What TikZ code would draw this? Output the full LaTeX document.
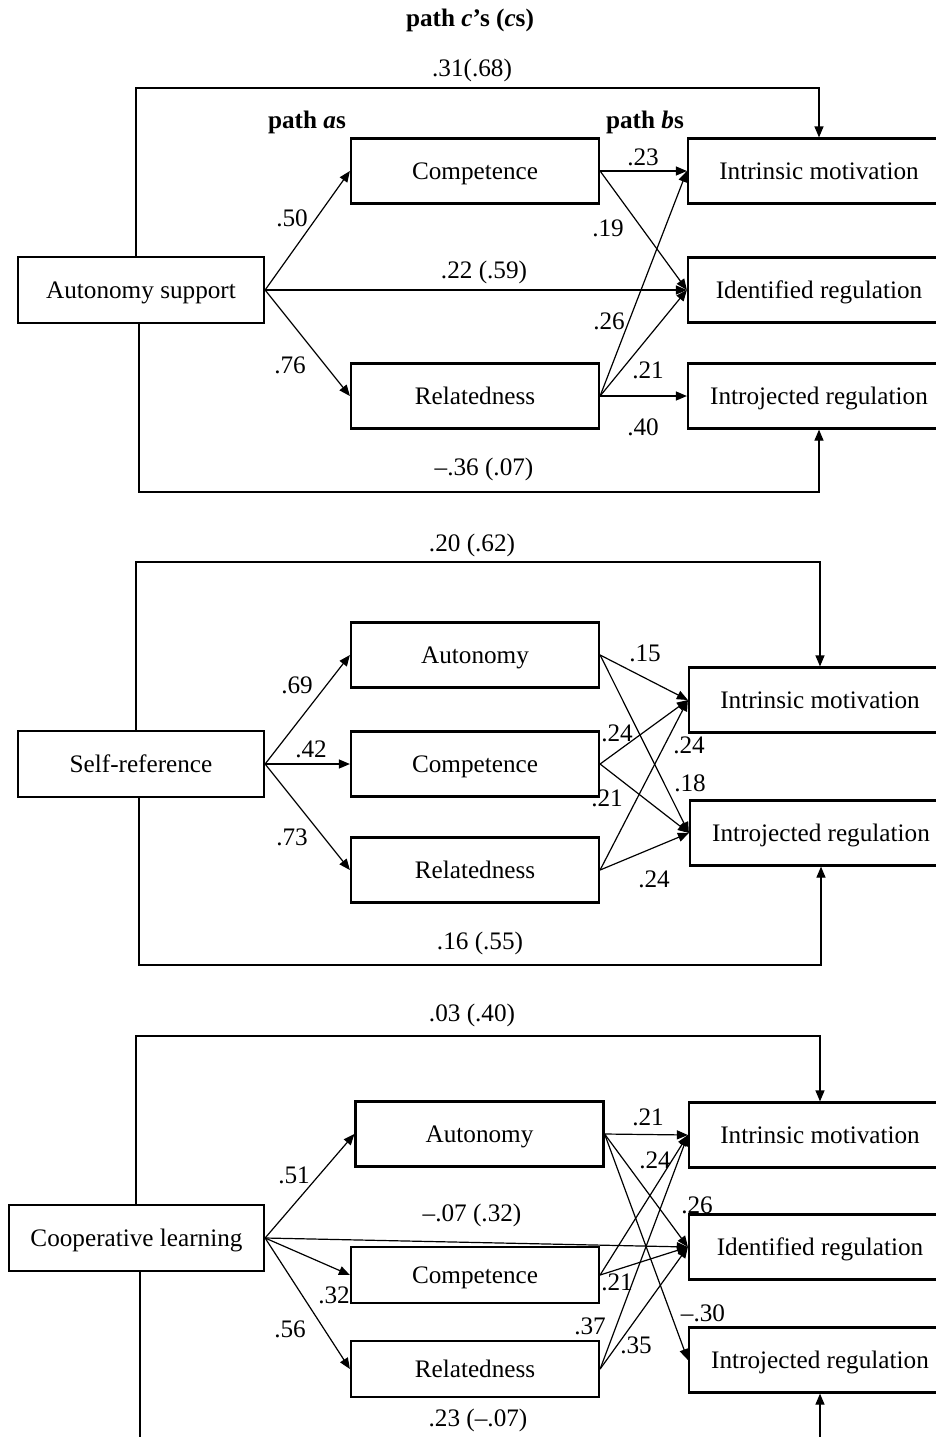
\documentclass[tikz,border=0pt]{standalone}
\usepackage{fontspec}
\setmainfont{Liberation Serif}
\usetikzlibrary{arrows.meta}
\begin{document}
\begin{tikzpicture}[x=0.5pt,y=-0.5pt,
  box/.style={draw, line width=1.1pt, inner sep=0pt, minimum width=124pt, minimum height=32.5pt, text height=8.3pt, text depth=0pt, font=\fontsize{12.6}{15}\selectfont},
  lbox/.style={box, minimum width=123pt, minimum height=33pt},
  rbox/.style={box, minimum width=131pt},
  lab/.style={inner sep=0pt, font=\fontsize{12.6}{15}\selectfont},
  conn/.style={line width=0.6pt, -{Triangle[length=5.5pt,width=4.5pt]}}
]
\useasboundingbox (0,0) rectangle (936,1437);
\clip (0,0) rectangle (936,1437);

% ---------------- Panel 1 ----------------
\node[lab, font=\fontsize{12.6}{15}\selectfont\bfseries] (title) at (470,20) {path \textit{c}’s (\textit{c}s)};
\node[lbox] (AS) at (141,290) {Autonomy support};
\node[box] (C1) at (475,171) {Competence};
\node[box] (R1) at (475,396) {Relatedness};
\node[rbox] (IM1) at (819,171) {Intrinsic motivation};
\node[rbox] (ID1) at (819,290) {Identified regulation};
\node[rbox] (IJ1) at (819,396) {Introjected regulation};

\draw[conn] (AS.east) -- (C1.west);
\draw[conn] (AS.east) -- (R1.west);
\draw[conn] (AS.east) -- (ID1.west);
\draw[conn] (C1.east) -- (IM1.west);
\draw[conn] (C1.east) -- (ID1.west);
\draw[conn] (R1.east) -- (IM1.west);
\draw[conn] (R1.east) -- (ID1.west);
\draw[conn] (R1.east) -- (IJ1.west);
\coordinate (t1) at (136,88);
\coordinate (b1) at (139,492);
\draw[conn] (AS.north -| t1) -- (t1) -| (IM1.north);
\draw[conn] (AS.south -| b1) -- (b1) -| (IJ1.south);

\node[lab] (p1c) at (472,70) {.31(.68)};
\node[lab, font=\fontsize{12.6}{15}\selectfont\bfseries] (pa) at (307,122) {path \textit{a}s};
\node[lab, font=\fontsize{12.6}{15}\selectfont\bfseries] (pb) at (645,122) {path \textit{b}s};
\node[lab] (p1a) at (292,218) {.50};
\node[lab] (p1b) at (290,365) {.76};
\node[lab] (p1d) at (484,272) {.22 (.59)};
\node[lab] (p1e) at (643,157) {.23};
\node[lab] (p1f) at (608,228) {.19};
\node[lab] (p1g) at (609,321) {.26};
\node[lab] (p1h) at (648,370) {.21};
\node[lab] (p1i) at (643,427) {.40};
\node[lab] (p1j) at (484,469) {–.36 (.07)};

% ---------------- Panel 2 ----------------
\node[lbox] (SR) at (141,764) {Self-reference};
\node[box] (A2) at (475,655) {Autonomy};
\node[box] (C2) at (475,764) {Competence};
\node[box] (R2) at (475,870) {Relatedness};
\node[rbox] (IM2) at (820,700) {Intrinsic motivation};
\node[rbox] (IJ2) at (821,833) {Introjected regulation};

\draw[conn] (SR.east) -- (A2.west);
\draw[conn] (SR.east) -- (C2.west);
\draw[conn] (SR.east) -- (R2.west);
\draw[conn] (A2.east) -- (IM2.west);
\draw[conn] (A2.east) -- (IJ2.west);
\draw[conn] (C2.east) -- (IM2.west);
\draw[conn] (C2.east) -- (IJ2.west);
\draw[conn] (R2.east) -- (IM2.west);
\draw[conn] (R2.east) -- (IJ2.west);
\coordinate (t2) at (136,562);
\coordinate (b2) at (139,965);
\draw[conn] (SR.north -| t2) -- (t2) -| (IM2.north);
\draw[conn] (SR.south -| b2) -- (b2) -| (IJ2.south);

\node[lab] (p2c) at (472,545) {.20 (.62)};
\node[lab] (p2a) at (297,685) {.69};
\node[lab] (p2b) at (311,749) {.42};
\node[lab] (p2d) at (292,837) {.73};
\node[lab] (p2e) at (645,653) {.15};
\node[lab] (p2f) at (617,733) {.24};
\node[lab] (p2g) at (689,745) {.24};
\node[lab] (p2h) at (690,783) {.18};
\node[lab] (p2i) at (607,798) {.21};
\node[lab] (p2j) at (654,879) {.24};
\node[lab] (p2k) at (480,943) {.16 (.55)};

% ---------------- Panel 3 ----------------
\node[lbox, minimum width=127.5pt] (CL) at (136.5,1238) {Cooperative learning};
\node[box] (A3) at (479.5,1134) {Autonomy};
\node[box, minimum height=28pt] (C3) at (475,1275) {Competence};
\node[box, minimum height=28pt] (R3) at (475,1369) {Relatedness};
\node[rbox] (IM3) at (820,1135) {Intrinsic motivation};
\node[rbox] (ID3) at (820,1247) {Identified regulation};
\node[rbox] (IJ3) at (820,1360) {Introjected regulation};

\draw[conn] (CL.east) -- (A3.west);
\draw[conn] (CL.east) -- (C3.west);
\draw[conn] (CL.east) -- (R3.west);
\draw[conn] (CL.east) -- (ID3.west);
\draw[conn] (A3.east) -- (IM3.west);
\draw[conn] (A3.east) -- (ID3.west);
\draw[conn] (A3.east) -- (IJ3.west);
\draw[conn] (C3.east) -- (IM3.west);
\draw[conn] (C3.east) -- (ID3.west);
\draw[conn] (R3.east) -- (IM3.west);
\draw[conn] (R3.east) -- (ID3.west);
\coordinate (t3) at (136,1036);
\coordinate (b3) at (140,1470);
\draw[conn] (CL.north -| t3) -- (t3) -| (IM3.north);
\draw[conn] (CL.south -| b3) -- (b3) -| (IJ3.south);

\node[lab] (p3c) at (472,1015) {.03 (.40)};
\node[lab] (p3a) at (294,1175) {.51};
\node[lab] (p3b) at (472,1215) {–.07 (.32)};
\node[lab] (p3d) at (334,1295) {.32};
\node[lab] (p3e) at (290,1329) {.56};
\node[lab] (p3f) at (648,1117) {.21};
\node[lab] (p3g) at (655,1160) {.24};
\node[lab] (p3h) at (697,1205) {.26};
\node[lab] (p3i) at (617,1282) {.21};
\node[lab] (p3j) at (590,1326) {.37};
\node[lab] (p3k) at (703,1313) {–.30};
\node[lab] (p3l) at (636,1345) {.35};
\node[lab] (p3m) at (478,1420) {.23 (–.07)};
\end{tikzpicture}
\end{document}
